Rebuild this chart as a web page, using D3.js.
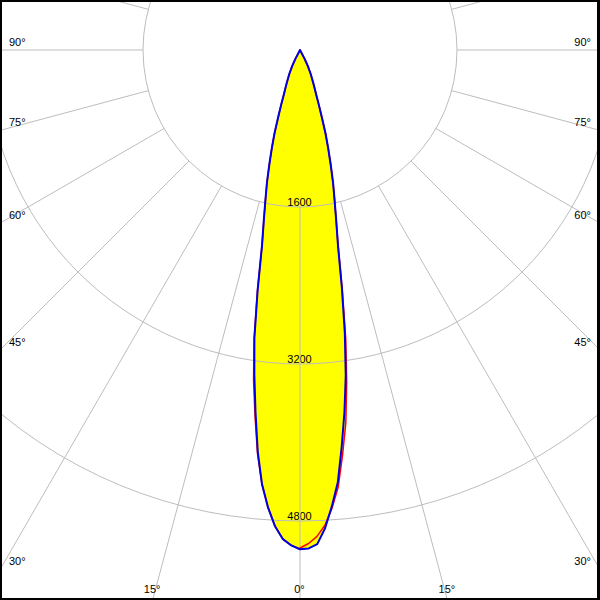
<!DOCTYPE html>
<html>
<head>
<meta charset="utf-8">
<script src="https://cdn.jsdelivr.net/npm/d3@7"></script>
<style>
  html, body { margin: 0; padding: 0; background: #fff; }
  svg { display: block; }
  text { font-family: "Liberation Sans", Arial, sans-serif; font-size: 11px; fill: #000; }
</style>
</head>
<body>
<svg id="chart" width="600" height="600"></svg>
<script>
// ---- data (luminous intensity, cd, vs. angle gamma in degrees) ----
const angles     = [0, 1, 2, 3, 4, 5, 6, 7, 8, 9, 10, 11, 12, 13, 14, 15, 16, 17, 18, 19, 20, 21, 22, 24, 26, 27.5, 30];
const blueRight  = [5088, 5080, 5039, 4881, 4660, 4423, 4066, 3718, 3350, 2920, 2455, 2028, 1774, 1565, 1392, 1208, 1043, 890, 718, 586, 479, 414, 357, 268, 183, 102, 0];
const blueLeft   = [5088, 5050, 4988, 4861, 4673, 4443, 4117, 3720, 3343, 2971, 2487, 2028, 1774, 1565, 1392, 1208, 1043, 890, 718, 586, 479, 414, 357, 268, 183, 102, 0];
const redRight   = [5075, 5030, 4960, 4850, 4680, 4470, 4150, 3830, 3420, 2980, 2480, 2040, 1774, 1565, 1392, 1208, 1043, 890, 718, 586, 479, 414, 357, 268, 183, 102, 0];
const redLeft    = [5088, 5050, 4988, 4861, 4673, 4443, 4140, 3760, 3400, 2990, 2500, 2028, 1774, 1565, 1392, 1208, 1043, 890, 718, 586, 479, 414, 357, 268, 183, 102, 0];
const ringValues = [1600, 3200, 4800];
const ringLabels = ["1600", "3200", "4800"];
const gridStep   = 15;
const sideLabels = [90, 75, 60, 45, 30];
const bottomLabels = [15, 0, 15];
const bottomAngles = [-15, 0, 15];

// ---- layout ----
const W = 600, H = 600;
const cx = 300, cy = 50;
const svg = d3.select("#chart");
const r = d3.scaleLinear().domain([0, 1600]).range([0, 157]);
const rad = d => d * Math.PI / 180;

// frame
svg.append("rect").attr("x", 0).attr("y", 0).attr("width", W).attr("height", H).attr("fill", "#000");
svg.append("rect").attr("x", 2).attr("y", 2).attr("width", W - 5).attr("height", H - 4).attr("fill", "#fff");

svg.append("clipPath").attr("id", "clip")
  .append("rect").attr("x", 2).attr("y", 2).attr("width", W - 5).attr("height", H - 4);

const g = svg.append("g").attr("clip-path", "url(#clip)");
const c = g.append("g").attr("transform", `translate(${cx},${cy})`);

// closed polar outline: right half (gamma ascending), then left half (gamma descending)
function outline(rightVals, leftVals) {
  const pts = [];
  angles.forEach((a, i) => pts.push([Math.PI - rad(a), r(rightVals[i])]));
  for (let i = angles.length - 1; i >= 0; i--) pts.push([Math.PI + rad(angles[i]), r(leftVals[i])]);
  return pts;
}
const radial = d3.lineRadial().angle(d => d[0]).radius(d => d[1]).curve(d3.curveLinearClosed);

const redPts = outline(redRight, redLeft);
const bluePts = outline(blueRight, blueLeft);

// fills
c.append("path").attr("d", radial(redPts)).attr("fill", "#ffff00");
c.append("path").attr("d", radial(bluePts)).attr("fill", "#ffff00");

// ring value labels
ringValues.forEach((v, i) => {
  c.append("text").attr("x", -0.5).attr("y", r(v) - 1.5)
    .attr("text-anchor", "middle").text(ringLabels[i]);
});

// grid: circles
const gridColor = "#bdbdbd";
ringValues.forEach(v => {
  c.append("circle").attr("r", r(v)).attr("fill", "none")
    .attr("stroke", gridColor).attr("stroke-width", 1);
});
// grid: radial lines from first ring outward
d3.range(0, 360, gridStep).forEach(a => {
  const t = rad(a);
  const r0 = r(ringValues[0]), r1 = 1000;
  c.append("line")
    .attr("x1", r0 * Math.sin(t)).attr("y1", r0 * Math.cos(t))
    .attr("x2", r1 * Math.sin(t)).attr("y2", r1 * Math.cos(t))
    .attr("stroke", gridColor).attr("stroke-width", 1);
});

// curves
c.append("path").attr("d", radial(redPts)).attr("fill", "none")
  .attr("stroke", "#ff0000").attr("stroke-width", 1.5).attr("stroke-linejoin", "round");
c.append("path").attr("d", radial(bluePts)).attr("fill", "none")
  .attr("stroke", "#0000e0").attr("stroke-width", 2).attr("stroke-linejoin", "round");

// angle labels on left and right edges
sideLabels.forEach(a => {
  const t = rad(a);
  const yEdge = cy + cx * Math.cos(t) / Math.sin(t);
  g.append("text").attr("x", 9).attr("y", yEdge - 4.5).text(a + "°");
  g.append("text").attr("x", 591).attr("y", yEdge - 4.5).attr("text-anchor", "end").text(a + "°");
});
// bottom labels
bottomAngles.forEach((a, i) => {
  const xEdge = cx + (H - cy) * Math.tan(rad(a));
  g.append("text").attr("x", xEdge - 0.5).attr("y", 592.5).attr("text-anchor", "middle").text(bottomLabels[i] + "°");
});
</script>
</body>
</html>
